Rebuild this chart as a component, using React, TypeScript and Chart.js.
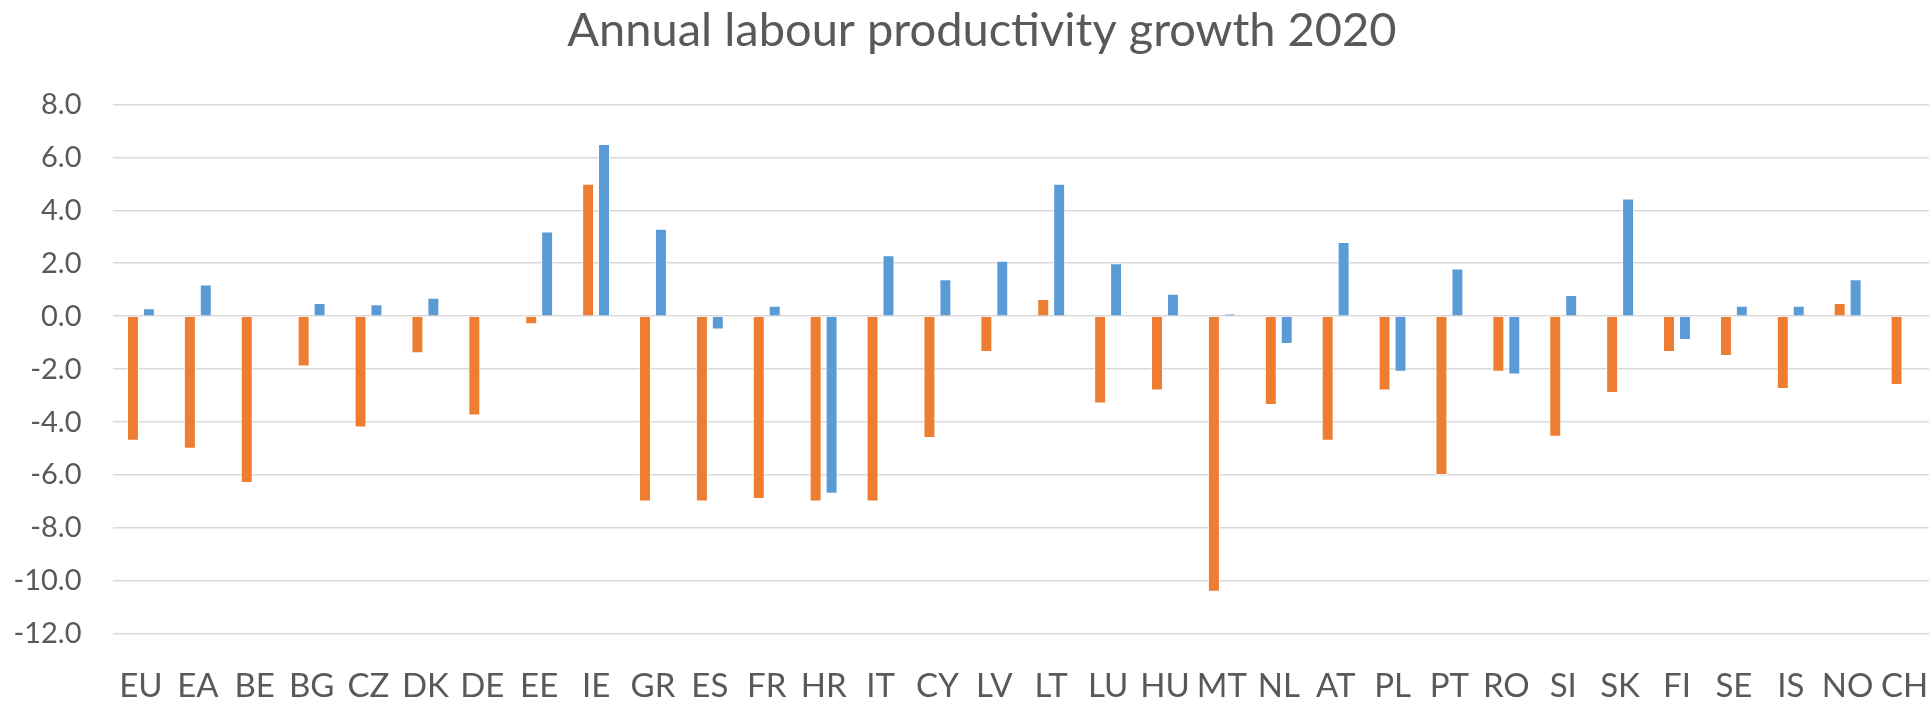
import { useEffect, useRef } from "react";
import { Chart, registerables } from "chart.js";

Chart.register(...registerables);

const categories = [
  "EU", "EA", "BE", "BG", "CZ", "DK", "DE", "EE", "IE", "GR", "ES", "FR", "HR", "IT", "CY", "LV",
  "LT", "LU", "HU", "MT", "NL", "AT", "PL", "PT", "RO", "SI", "SK", "FI", "SE", "IS", "NO", "CH",
];

const seriesOrange = [
  -4.7, -5.0, -6.3, -1.9, -4.2, -1.4, -3.75, -0.3, 5.0, -7.0, -7.0, -6.9, -7.0, -7.0, -4.6, -1.35,
  0.65, -3.3, -2.8, -10.4, -3.35, -4.7, -2.8, -6.0, -2.1, -4.55, -2.9, -1.35, -1.5, -2.75, 0.5, -2.6,
];

const seriesBlue = [
  0.3, 1.2, null, 0.5, 0.45, 0.7, null, 3.2, 6.5, 3.3, -0.5, 0.4, -6.7, 2.3, 1.4, 2.1,
  5.0, 2.0, 0.85, 0.1, -1.05, 2.8, -2.1, 1.8, -2.2, 0.8, 4.45, -0.9, 0.4, 0.4, 1.4, null,
];

const yMin = -12;
const yMax = 8;
const yStep = 2;

const titleText = "Annual labour productivity growth 2020";

export default function App() {
  const ref = useRef<HTMLCanvasElement>(null);

  useEffect(() => {
    if (!ref.current) return;
    const chart = new Chart(ref.current, {
      type: "bar",
      data: {
        labels: categories,
        datasets: [
          {
            label: "Series 1",
            data: seriesOrange,
            backgroundColor: "#ED7D31",
            borderColor: "rgba(255,255,255,0.7)",
            borderWidth: 1,
            categoryPercentage: 0.56,
            barPercentage: 0.75,
          },
          {
            label: "Series 2",
            data: seriesBlue,
            backgroundColor: "#5B9BD5",
            borderColor: "rgba(255,255,255,0.7)",
            borderWidth: 1,
            categoryPercentage: 0.56,
            barPercentage: 0.75,
          },
        ],
      },
      options: {
        responsive: false,
        animation: false,
        devicePixelRatio: 1,
        layout: { padding: { left: 0, right: 0, top: 0, bottom: 0 } },
        plugins: {
          legend: { display: false },
          tooltip: { enabled: false },
          title: {
            display: true,
            text: titleText,
            color: "#595959",
            font: { family: "Lato", size: 47, weight: "normal", lineHeight: 1.2 },
            padding: { top: 3, bottom: 45 },
          },
        },
        scales: {
          x: {
            grid: { display: false },
            border: { display: false },
            afterFit: (axis: any) => {
              axis.height = 70;
            },
            ticks: {
              color: "#595959",
              font: { family: "Lato", size: 33 },
              autoSkip: false,
              maxRotation: 0,
              minRotation: 0,
              padding: 25,
            },
          },
          y: {
            min: yMin,
            max: yMax,
            border: { display: false },
            grid: { color: "#D9D9D9", lineWidth: 1.6, drawTicks: false },
            afterFit: (axis: any) => {
              axis.width = 112.5;
            },
            ticks: {
              stepSize: yStep,
              color: "#595959",
              font: { family: "Lato", size: 29 },
              padding: 31,
              callback: (v: any) => Number(v).toFixed(1),
            },
          },
          yRight: {
            type: "linear",
            position: "right",
            min: yMin,
            max: yMax,
            grid: { display: false, drawTicks: false },
            border: { display: false },
            ticks: { display: false },
            afterFit: (axis: any) => {
              axis.width = 31;
            },
          },
        },
      },
    });
    return () => chart.destroy();
  }, []);

  return (
    <div
      style={{
        position: "fixed",
        left: 0,
        top: 0,
        width: 1929,
        height: 704,
        overflow: "hidden",
        background: "#fff",
      }}
    >
      <canvas ref={ref} width={1964} height={704} style={{ width: 1964, height: 704, display: "block" }} />
    </div>
  );
}
